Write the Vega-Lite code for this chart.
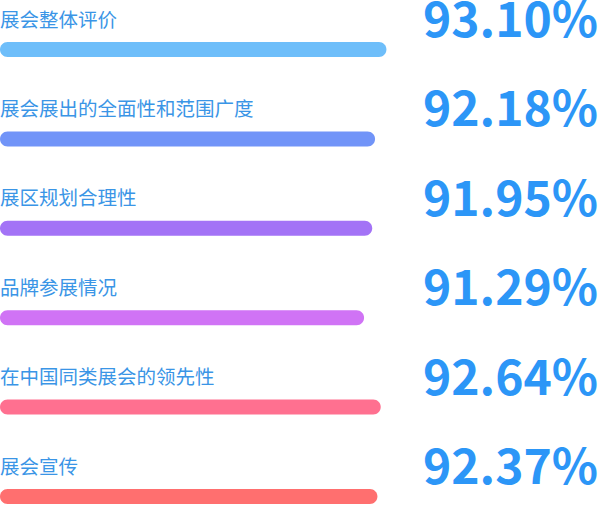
{
  "$schema": "https://vega.github.io/schema/vega-lite/v6.json",
  "width": 600,
  "height": 505,
  "padding": 0,
  "autosize": {"type": "none"},
  "background": "#ffffff",
  "config": {"view": {"stroke": null}},
  "data": {
    "values": [
      {"label": "展会整体评价", "rate": 0.9310},
      {"label": "展会展出的全面性和范围广度", "rate": 0.9218},
      {"label": "展区规划合理性", "rate": 0.9195},
      {"label": "品牌参展情况", "rate": 0.9129},
      {"label": "在中国同类展会的领先性", "rate": 0.9264},
      {"label": "展会宣传", "rate": 0.9237}
    ]
  },
  "encoding": {
    "y": {
      "field": "label",
      "type": "nominal",
      "sort": null,
      "scale": {"range": [4.8, 541.2], "paddingInner": 0, "paddingOuter": 0},
      "axis": null
    }
  },
  "layer": [
    {
      "mark": {"type": "bar", "size": 15, "cornerRadius": 7.5},
      "encoding": {
        "x": {
          "field": "rate",
          "type": "quantitative",
          "scale": {"domain": [0.618, 1.104], "zero": false, "nice": false},
          "axis": null
        },
        "x2": {"datum": 0.618},
        "color": {
          "field": "label",
          "type": "nominal",
          "sort": null,
          "scale": {
            "domain": ["展会整体评价", "展会展出的全面性和范围广度", "展区规划合理性", "品牌参展情况", "在中国同类展会的领先性", "展会宣传"],
            "range": ["#6EBEFA", "#7194F8", "#A373F6", "#D073F5", "#FF7090", "#FF6F6F"]
          },
          "legend": null
        }
      }
    },
    {
      "mark": {
        "type": "text",
        "align": "left",
        "baseline": "middle",
        "dy": -29,
        "font": "Noto Sans CJK SC",
        "fontSize": 19.5,
        "color": "#3A95E6"
      },
      "encoding": {
        "x": {"value": 0},
        "text": {"field": "label"}
      }
    },
    {
      "mark": {
        "type": "text",
        "align": "right",
        "baseline": "middle",
        "dy": -26.5,
        "dx": -2,
        "font": "Noto Sans CJK SC",
        "fontWeight": "bold",
        "fontSize": 48,
        "color": "#2C96F7"
      },
      "encoding": {
        "x": {"value": "width"},
        "text": {"field": "rate", "format": ".2%"}
      }
    }
  ]
}
